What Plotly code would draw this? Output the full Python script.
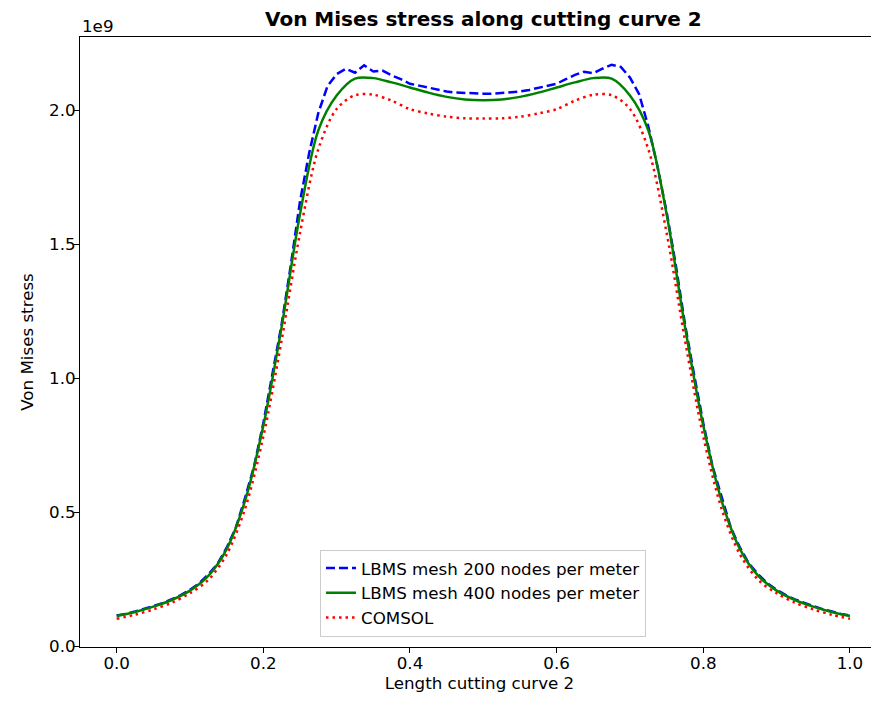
import plotly.graph_objects as go

# Values in units of 1e9 (axis offset "1e9")
x_coarse = [0.000, 0.025, 0.050, 0.075, 0.100, 0.125, 0.150, 0.175, 0.200, 0.225,
            0.250, 0.275, 0.300, 0.325, 0.350, 0.375, 0.400, 0.425, 0.450, 0.475,
            0.500, 0.525, 0.550, 0.575, 0.600, 0.625, 0.650, 0.675, 0.700, 0.725,
            0.750, 0.775, 0.800, 0.825, 0.850, 0.875, 0.900, 0.925, 0.950, 0.975, 1.000]

lbms_400 = [0.112, 0.127, 0.147, 0.172, 0.207, 0.262, 0.362, 0.542, 0.822, 1.192,
            1.612, 1.925, 2.055, 2.118, 2.120, 2.104, 2.085, 2.066, 2.050, 2.040,
            2.037, 2.040, 2.050, 2.066, 2.085, 2.104, 2.120, 2.118, 2.055, 1.925,
            1.612, 1.192, 0.822, 0.542, 0.362, 0.262, 0.207, 0.172, 0.147, 0.127, 0.112]

comsol = [0.102, 0.117, 0.137, 0.162, 0.197, 0.247, 0.342, 0.512, 0.782, 1.142,
          1.542, 1.855, 2.005, 2.056, 2.058, 2.036, 2.004, 1.988, 1.976, 1.970,
          1.969, 1.970, 1.976, 1.988, 2.004, 2.036, 2.058, 2.056, 2.005, 1.855,
          1.542, 1.142, 0.782, 0.512, 0.342, 0.247, 0.197, 0.162, 0.137, 0.117, 0.102]

x_fine = [0.0000, 0.0125, 0.0250, 0.0375, 0.0500, 0.0625, 0.0750, 0.0875, 0.1000, 0.1125,
          0.1250, 0.1375, 0.1500, 0.1625, 0.1750, 0.1875, 0.2000, 0.2125, 0.2250, 0.2375,
          0.2500, 0.2625, 0.2750, 0.2875, 0.3000, 0.3125, 0.3250, 0.3375, 0.3500, 0.3625,
          0.3750, 0.3875, 0.4000, 0.4125, 0.4250, 0.4375, 0.4500, 0.4625, 0.4750, 0.4875,
          0.5000, 0.5125, 0.5250, 0.5375, 0.5500, 0.5625, 0.5750, 0.5875, 0.6000, 0.6125,
          0.6250, 0.6375, 0.6500, 0.6625, 0.6750, 0.6875, 0.7000, 0.7125, 0.7250, 0.7375,
          0.7500, 0.7625, 0.7750, 0.7875, 0.8000, 0.8125, 0.8250, 0.8375, 0.8500, 0.8625,
          0.8750, 0.8875, 0.9000, 0.9125, 0.9250, 0.9375, 0.9500, 0.9625, 0.9750, 0.9875, 1.0000]

lbms_200 = [0.114, 0.120, 0.129, 0.138, 0.149, 0.160, 0.174, 0.190, 0.210, 0.234,
            0.267, 0.307, 0.367, 0.442, 0.552, 0.672, 0.832, 1.012, 1.202, 1.422,
            1.660, 1.840, 1.990, 2.090, 2.135, 2.155, 2.140, 2.168, 2.145, 2.148,
            2.130, 2.116, 2.099, 2.092, 2.084, 2.076, 2.070, 2.066, 2.064, 2.062,
            2.062, 2.062, 2.064, 2.066, 2.070, 2.076, 2.084, 2.092, 2.099, 2.116,
            2.132, 2.144, 2.138, 2.155, 2.170, 2.162, 2.122, 2.060, 1.940, 1.790,
            1.620, 1.422, 1.202, 1.012, 0.832, 0.672, 0.552, 0.442, 0.367, 0.307,
            0.267, 0.234, 0.210, 0.190, 0.174, 0.160, 0.149, 0.138, 0.129, 0.120, 0.114]

x_ticks = [0.0, 0.2, 0.4, 0.6, 0.8, 1.0]
y_ticks = [0.0, 0.5, 1.0, 1.5, 2.0]

FONT = "DejaVu Sans"
FS = 16.7

fig = go.Figure()
fig.add_trace(go.Scatter(x=x_fine, y=lbms_200, mode="lines",
                         name="LBMS mesh 200 nodes per meter", legendgroup="a",
                         line=dict(color="#0000ff", width=2.5, dash="9px,4px")))
fig.add_trace(go.Scatter(x=x_coarse, y=lbms_400, mode="lines",
                         name="LBMS mesh 400 nodes per meter", legendgroup="b",
                         line=dict(color="#008000", width=2.5, shape="spline", smoothing=0.9)))
fig.add_trace(go.Scatter(x=x_coarse, y=comsol, mode="lines",
                         name="COMSOL", legendgroup="c",
                         line=dict(color="#ff0000", width=2.5, dash="2.5px,4px",
                                   shape="spline", smoothing=0.9)))

axis_common = dict(showline=True, linecolor="black", linewidth=1, ticks="outside",
                   ticklen=5, tickwidth=1, tickcolor="black", showgrid=False,
                   zeroline=False, automargin=False,
                   tickfont=dict(family=FONT, size=FS, color="black"),
                   tickformat=".1f")

fig.update_xaxes(range=[-0.05, 1.0396], tickvals=x_ticks, mirror=True,
                 ticklabelstandoff=-4,
                 title=dict(text="Length cutting curve 2", font=dict(family=FONT, size=FS, color="black"),
                            standoff=4),
                 **axis_common)
fig.update_yaxes(range=[-0.0035, 2.2735], tickvals=y_ticks, mirror=False,
                 ticklabelstandoff=-5,
                 title=dict(text="Von Mises stress", font=dict(family=FONT, size=FS, color="black"),
                            standoff=11),
                 **axis_common)

# Page body has an 8px margin: figure is drawn at (8, 8) in the window.
fig.update_layout(
    width=871, height=696,
    margin=dict(l=72, r=0, t=29, b=57),
    paper_bgcolor="white", plot_bgcolor="white",
    font=dict(family=FONT, size=FS, color="black"),
    showlegend=True,
    legend=dict(x=0.5044, y=0.017, xanchor="center", yanchor="bottom",
                bgcolor="rgba(255,255,255,0.8)", bordercolor="#cccccc", borderwidth=1,
                font=dict(family=FONT, size=FS, color="black"),
                traceorder="grouped", tracegroupgap=0),
    annotations=[
        dict(text="<b>Von Mises stress along cutting curve 2</b>", xref="paper", yref="paper",
             x=0.5044, y=1.0, yshift=18, xanchor="center", yanchor="middle", showarrow=False,
             font=dict(family=FONT, size=20, color="black")),
        dict(text="1e9", xref="paper", yref="paper", x=0.0, y=1.0, yshift=11,
             xanchor="left", yanchor="middle", showarrow=False,
             font=dict(family=FONT, size=FS, color="black")),
    ],
)

fig.write_html("out.html")
